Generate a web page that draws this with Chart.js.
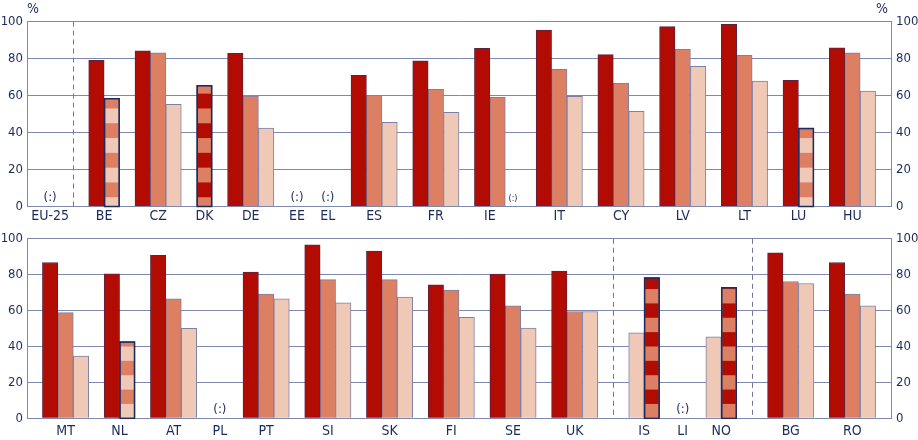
<!DOCTYPE html>
<html>
<head>
<meta charset="utf-8">
<script src="https://cdn.jsdelivr.net/npm/chart.js@4.4.1/dist/chart.umd.min.js"></script>
<style>
html,body{margin:0;padding:0;background:#fff;}
#wrap{position:relative;width:918px;height:440px;overflow:hidden;}
.box{position:absolute;left:0;width:918px;}
#boxTop{top:0;height:226px;}
#boxBottom{top:226px;height:214px;}
</style>
</head>
<body>
<div id="wrap">
  <div class="box" id="boxTop"><canvas id="chartTop" width="918" height="226"></canvas></div>
  <div class="box" id="boxBottom"><canvas id="chartBottom" width="918" height="214"></canvas></div>
</div>
<script>

/* DATA : TOP PANEL */

const topCountries =
["EU-25","BE","CZ","DK","DE","EE","EL","ES","FR","IE","IT","CY","LV","LT","LU","HU"];

const topSeries1 =
[null,79.0,84.2,65.5,82.8,null,null,70.9,78.8,85.5,95.4,82.1,97.2,98.5,68.2,85.8];

const topSeries2 =
[null,58.5,83.0,65.5,59.7,null,null,60.1,63.3,59.0,74.2,66.6,85.0,81.7,42.4,83.0];

const topSeries3 =
[null,58.5,55.2,null,42.4,null,null,45.5,50.9,null,59.5,51.5,75.8,67.8,42.4,62.4];

// two series with the same value, drawn as one striped bar
const topSharedCountries = ["BE","DK","LU"];
const topSharedPairs = [[1,2],[0,1],[1,2]];

// "(:)" = not available
const topNoData = ["EU-25","EE","EL","IE"];

// dashed separator after these
const topBreaks = ["EU-25"];

/* DATA : BOTTOM PANEL */

const bottomCountries =
["MT","NL","AT","PL","PT","SI","SK","FI","SE","UK","IS","LI","NO","BG","RO"];

const bottomSeries1 =
[86.8,80.5,90.8,null,81.4,96.6,93.1,74.4,80.3,82.0,78.4,null,73.0,92.2,86.8];

const bottomSeries2 =
[58.9,42.7,66.5,null,69.2,77.3,77.3,71.4,62.7,59.5,78.4,null,73.0,76.2,69.2];

const bottomSeries3 =
[34.6,42.7,50.1,null,66.5,64.3,67.6,56.2,50.3,59.5,47.6,null,45.4,75.1,62.7];

const bottomSharedCountries = ["NL","IS","NO"];
const bottomSharedPairs = [[1,2],[0,1],[0,1]];

const bottomNoData = ["PL","LI"];

const bottomBreaks = ["UK","NO"];

/* Y AXIS */

const yTickLabels = [0,20,40,60,80,100];

/* STYLE */

const seriesColors = ["#b20c02","#dc7f62","#f0c9b6"];
const seriesBorders = ["#5c2444","#7b80a8","#7b80a8"];
const stripeBorder = "#1c2a5c";
const gridColor = "#7f89ad";
const textColor = "#1b2a5e";
const fontFamily = '"Liberation Sans Narrow","DejaVu Sans Condensed",sans-serif';
const plotWidth = 918 - 54;

/* LAYOUT : one slot per bar, one empty slot between countries */

function buildLayout(countries, series, sharedCountries, sharedPairs, noData, breaks){

  const out = {
    bars:[[],[],[]],
    striped:[],
    labels:[],
    missing:[],
    breaks:[],
    total:0
  };

  let slot = 1;

  countries.forEach((c,i)=>{

    const k = sharedCountries.indexOf(c);
    const pair = k >= 0 ? sharedPairs[k] : [];
    const list = [];

    series.forEach((s,j)=>{
      if(s[i] !== null && pair.indexOf(j) < 0){
        list.push({series:j, y:s[i]});
      }
    });

    if(pair.length){
      list.push({pair:pair, y:series[pair[0]][i]});
    }

    list.forEach((b,n)=>{
      const x = slot + n + 0.5;
      if(b.pair){
        out.striped.push({x:x, y:b.y, pair:b.pair});
      }else{
        out.bars[b.series].push({x:x, y:b.y});
      }
    });

    out.labels.push({
      x: slot + Math.max(list.length,1)/2,
      text: c
    });

    let width = list.length;

    if(noData.indexOf(c) >= 0){
      out.missing.push({
        x: slot + list.length + 0.5,
        small: list.length > 0
      });
      width += 1;
    }

    slot += width + 1;

    if(breaks.indexOf(c) >= 0){
      out.breaks.push(slot);
      slot += 1;
    }

  });

  out.total = slot;

  return out;
}

/* EXTRA DRAWING : stripes, separators, "(:)", "%" */

const extrasPlugin = {

  id:"extras",

  beforeDatasetsDraw(chart, args, opts){

    const ctx = chart.ctx;
    const area = chart.chartArea;
    const xs = chart.scales.x;

    ctx.save();
    ctx.strokeStyle = "#6b76a0";
    ctx.lineWidth = 1;
    ctx.setLineDash([5,4]);

    opts.layout.breaks.forEach(b=>{
      const px = Math.round(xs.getPixelForValue(b)) + 0.5;
      ctx.beginPath();
      ctx.moveTo(px, area.top);
      ctx.lineTo(px, area.bottom);
      ctx.stroke();
    });

    ctx.restore();
  },

  afterDatasetsDraw(chart, args, opts){

    const ctx = chart.ctx;
    const xs = chart.scales.x;
    const ys = chart.scales.y;
    const meta = chart.getDatasetMeta(3);

    // stripes on the shared bars
    meta.data.forEach((el,i)=>{

      const p = el.getProps(["x","y","base","width"], true);
      const raw = opts.layout.striped[i];
      const left = p.x - p.width/2;

      ctx.save();
      ctx.beginPath();
      ctx.rect(left + 1, p.y + 1, p.width - 2, p.base - p.y - 1);
      ctx.clip();
      ctx.fillStyle = seriesColors[raw.pair[0]];

      for(let v = opts.phase; v < 100; v += 16){
        const y1 = ys.getPixelForValue(v + 8);
        const y2 = ys.getPixelForValue(v);
        ctx.fillRect(left, y1, p.width, y2 - y1);
      }

      ctx.restore();

      ctx.save();
      ctx.strokeStyle = stripeBorder;
      ctx.lineWidth = 1.5;
      ctx.strokeRect(left + 0.5, p.y + 0.5, p.width - 1, p.base - p.y);
      ctx.restore();
    });

    // not available
    ctx.save();
    ctx.fillStyle = textColor;
    ctx.textAlign = "center";
    ctx.textBaseline = "middle";

    opts.layout.missing.forEach(m=>{
      ctx.font = (m.small ? "9px " : "13px ") + fontFamily;
      ctx.fillText(
        "(:)",
        xs.getPixelForValue(m.x),
        ys.getPixelForValue(0) - (m.small ? 8 : 9)
      );
    });

    // percent signs
    if(opts.percent){
      ctx.font = "14px " + fontFamily;
      ctx.fillText("%", chart.chartArea.left + 6, 9);
      ctx.fillText("%", chart.chartArea.right - 9, 9);
    }

    ctx.restore();
  }
};

/* CHART */

function makeChart(id, layout, opts){

  const xFont = {family:fontFamily, size:14};
  const yFont = {family:fontFamily, size:13};

  const datasets = [0,1,2].map(j=>({
    data: layout.bars[j],
    backgroundColor: seriesColors[j],
    borderColor: seriesBorders[j],
    borderWidth: 1,
    grouped: false,
    barThickness: plotWidth / layout.total
  }));

  datasets.push({
    data: layout.striped,
    backgroundColor: c => seriesColors[c.raw.pair[1]],
    borderColor: stripeBorder,
    borderWidth: 1,
    grouped: false,
    barThickness: plotWidth / layout.total
  });

  return new Chart(
    document.getElementById(id),
    {
      type:"bar",
      data:{datasets:datasets},
      plugins:[extrasPlugin],
      options:{
        responsive:false,
        animation:false,
        devicePixelRatio:1,
        layout:{padding:{top:opts.top, left:0, right:0, bottom:0}},
        plugins:{
          legend:{display:false},
          tooltip:{enabled:false},
          extras:{layout:layout, phase:opts.phase, percent:opts.percent}
        },
        scales:{
          x:{
            type:"linear",
            min:0,
            max:layout.total,
            offset:false,
            grid:{display:false, drawTicks:false, offset:false},
            border:{display:true, color:gridColor},
            afterBuildTicks: s => {
              s.ticks = layout.labels.map(l=>({value:l.x}));
            },
            afterFit: s => { s.height = opts.xHeight; },
            ticks:{
              autoSkip:false,
              maxRotation:0,
              padding:opts.labelPad,
              color:textColor,
              font:xFont,
              callback:(v,i)=> layout.labels[i] ? layout.labels[i].text : ""
            }
          },
          y:{
            position:"left",
            min:0,
            max:100,
            grid:{color:gridColor, drawTicks:false},
            border:{color:gridColor},
            afterFit: s => { s.width = 27; },
            ticks:{
              stepSize:10,
              padding:4,
              color:textColor,
              font:yFont,
              callback: v => yTickLabels.indexOf(v) >= 0 ? String(v) : ""
            }
          },
          y2:{
            position:"right",
            min:0,
            max:100,
            grid:{drawOnChartArea:false, drawTicks:false},
            border:{color:gridColor},
            afterFit: s => { s.width = 27; },
            ticks:{
              stepSize:10,
              padding:5,
              color:textColor,
              font:yFont,
              callback: v => yTickLabels.indexOf(v) >= 0 ? String(v) : ""
            }
          }
        }
      }
    }
  );
}

const topLayout = buildLayout(
  topCountries,
  [topSeries1, topSeries2, topSeries3],
  topSharedCountries,
  topSharedPairs,
  topNoData,
  topBreaks
);

const bottomLayout = buildLayout(
  bottomCountries,
  [bottomSeries1, bottomSeries2, bottomSeries3],
  bottomSharedCountries,
  bottomSharedPairs,
  bottomNoData,
  bottomBreaks
);

makeChart("chartTop", topLayout, {
  top:21.5, xHeight:19.5, labelPad:1, phase:5, percent:true
});

makeChart("chartBottom", bottomLayout, {
  top:7.3, xHeight:21.7, labelPad:5, phase:8, percent:false
});

</script>
</body>
</html>
